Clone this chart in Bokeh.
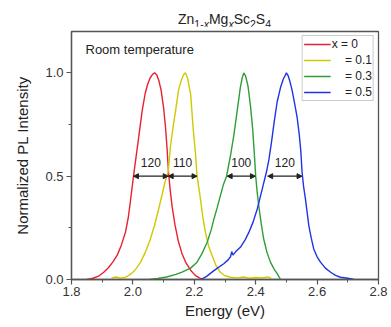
from bokeh.plotting import figure
from bokeh.layouts import column
from bokeh.models import Range1d, FixedTicker, Legend, LegendItem, Label, Arrow, NormalHead, Div
from bokeh.embed import file_html
from bokeh.resources import INLINE

# ---------------- data ----------------
NB = "\u00a0"
series_names = ["x = 0", NB * 4 + "= 0.1", NB * 4 + "= 0.3", NB * 4 + "= 0.5"]
series_colors = ["#e8202f", "#cfca00", "#2f9e36", "#2133e3"]

x0_E = [1.850, 1.870, 1.890, 1.905, 1.920, 1.935, 1.949, 1.962, 1.976, 1.985, 1.992, 2.002,
        2.010, 2.019, 2.030, 2.040, 2.048, 2.056, 2.064, 2.071, 2.078, 2.085, 2.092, 2.100,
        2.106, 2.111, 2.116, 2.121, 2.128, 2.137, 2.148, 2.160, 2.173, 2.188, 2.203, 2.218, 2.230]
x0_I = [0.000, 0.006, 0.018, 0.035, 0.057, 0.085, 0.118, 0.165, 0.230, 0.300, 0.380, 0.500,
        0.590, 0.690, 0.815, 0.900, 0.945, 0.975, 0.993, 1.000, 0.990, 0.960, 0.915, 0.830,
        0.740, 0.640, 0.520, 0.440, 0.350, 0.265, 0.185, 0.125, 0.080, 0.045, 0.020, 0.007, 0.000]

x1_E = [1.930, 1.945, 1.960, 1.975, 1.987, 2.000, 2.012, 2.025, 2.040, 2.057, 2.070, 2.084,
        2.095, 2.104, 2.115, 2.122, 2.131, 2.139, 2.149, 2.158, 2.165, 2.171, 2.178, 2.188,
        2.196, 2.204, 2.209, 2.220, 2.228, 2.236, 2.247, 2.258, 2.270, 2.285, 2.300, 2.318,
        2.340, 2.360, 2.380, 2.400, 2.420, 2.440, 2.450]
x1_I = [0.008, 0.012, 0.006, 0.010, 0.020, 0.035, 0.055, 0.084, 0.130, 0.196, 0.260, 0.341,
        0.410, 0.470, 0.520, 0.640, 0.740, 0.816, 0.920, 0.965, 0.990, 1.000, 0.975, 0.897,
        0.736, 0.607, 0.500, 0.390, 0.300, 0.229, 0.160, 0.116, 0.070, 0.035, 0.018, 0.011,
        0.008, 0.012, 0.006, 0.010, 0.007, 0.013, 0.005]

x3_E = [2.055, 2.080, 2.110, 2.140, 2.160, 2.188, 2.209, 2.225, 2.242, 2.255, 2.264, 2.275,
        2.285, 2.295, 2.305, 2.318, 2.329, 2.340, 2.350, 2.356, 2.361, 2.367, 2.375, 2.383,
        2.390, 2.395, 2.400, 2.405, 2.410, 2.418, 2.426, 2.437, 2.448, 2.460, 2.470, 2.481]
x3_I = [0.000, 0.005, 0.012, 0.025, 0.036, 0.055, 0.084, 0.125, 0.180, 0.240, 0.293, 0.350,
        0.406, 0.460, 0.500, 0.600, 0.700, 0.820, 0.930, 0.975, 1.000, 0.985, 0.935, 0.840,
        0.730, 0.620, 0.500, 0.420, 0.357, 0.270, 0.196, 0.130, 0.084, 0.050, 0.028, 0.000]

x5_E = [2.222, 2.240, 2.264, 2.280, 2.296, 2.310, 2.318, 2.322, 2.326, 2.335, 2.350, 2.365,
        2.378, 2.392, 2.405, 2.415, 2.425, 2.435, 2.443, 2.451, 2.460, 2.470, 2.481, 2.490,
        2.497, 2.500, 2.506, 2.512, 2.519, 2.527, 2.535, 2.542, 2.547, 2.551, 2.556, 2.562,
        2.573, 2.581, 2.589, 2.600, 2.611, 2.627, 2.644, 2.660, 2.676, 2.700, 2.720]
x5_I = [0.000, 0.015, 0.043, 0.060, 0.076, 0.095, 0.110, 0.135, 0.118, 0.135, 0.156, 0.190,
        0.229, 0.280, 0.341, 0.400, 0.460, 0.520, 0.580, 0.660, 0.760, 0.860, 0.930, 0.970,
        0.990, 1.000, 0.985, 0.955, 0.913, 0.850, 0.784, 0.700, 0.620, 0.520, 0.450, 0.390,
        0.261, 0.200, 0.148, 0.110, 0.084, 0.055, 0.035, 0.020, 0.011, 0.006, 0.000]

fwhm_lo = [2.002, 2.115, 2.307, 2.439]
fwhm_hi = [2.115, 2.209, 2.399, 2.551]
fwhm_level = 0.5
fwhm_text = ["120", "110", "100", "120"]

x_ticks = [1.8, 2.0, 2.2, 2.4, 2.6, 2.8]
x_minor = [1.9, 2.1, 2.3, 2.5, 2.7]
y_ticks = [0.0, 0.5, 1.0]
y_minor = [0.25, 0.75]

title_html = ("Zn<sub>1-<i>x</i></sub>Mg<sub><i>x</i></sub>Sc<sub>2</sub>S<sub>4</sub>")

# ---------------- layout ----------------
FONT = "Liberation Sans"
AX = "#555555"
TITLE_H = 26
FRAME_L, FRAME_R, FRAME_T, FRAME_B = 71, 378, 31, 279
W_PAGE, H_PAGE = 391, 327

sub_css = "font-size:10.5px;vertical-align:baseline;position:relative;top:3.5px;"
title_css = ("font-family:'Liberation Sans',Arial,sans-serif;font-size:14px;line-height:14px;"
             "color:#222222;white-space:nowrap;text-align:center;"
             f"margin-left:{FRAME_L}px;width:{FRAME_R - FRAME_L}px;padding-top:12px;")
html = f'<div style="{title_css}">' + title_html.replace("<sub>", f'<sub style="{sub_css}">') + "</div>"
title_div = Div(text=html, width=W_PAGE, height=TITLE_H, margin=(0, 0, 0, 0))

p = figure(width=W_PAGE, height=H_PAGE - TITLE_H, output_backend="svg", toolbar_location=None,
           x_range=Range1d(1.8, 2.8), y_range=Range1d(0, 1.2),
           min_border_left=FRAME_L, min_border_right=W_PAGE - FRAME_R,
           min_border_top=FRAME_T - TITLE_H, min_border_bottom=H_PAGE - FRAME_B,
           margin=(0, 0, 0, 0))
p.grid.visible = False
p.outline_line_color = AX
p.outline_line_width = 1.3

p.xaxis.ticker = FixedTicker(ticks=x_ticks, minor_ticks=x_minor)
p.yaxis.ticker = FixedTicker(ticks=y_ticks, minor_ticks=y_minor)
p.xaxis.major_label_overrides = {t: f"{t:.1f}" for t in x_ticks}
p.yaxis.major_label_overrides = {t: f"{t:.1f}" for t in y_ticks}
for ax in (p.xaxis[0], p.yaxis[0]):
    ax.axis_line_color = AX
    ax.axis_line_width = 1.3
    ax.major_tick_line_color = AX
    ax.minor_tick_line_color = AX
    ax.major_tick_line_width = 1.2
    ax.minor_tick_line_width = 1.0
    ax.major_tick_in = 0
    ax.major_tick_out = 5
    ax.minor_tick_in = 0
    ax.minor_tick_out = 3
    ax.major_label_text_font = FONT
    ax.major_label_text_font_size = "13px"
    ax.major_label_text_color = "#333333"
    ax.axis_label_text_font = FONT
    ax.axis_label_text_font_size = "15px"
    ax.axis_label_text_font_style = "normal"
    ax.axis_label_text_color = "#222222"
p.xaxis.axis_label = "Energy (eV)"
p.yaxis.axis_label = "Normalized PL Intensity"
p.xaxis.major_label_standoff = 2
p.xaxis.axis_label_standoff = 3
p.yaxis.major_label_standoff = 3
p.yaxis.axis_label_standoff = 11

# curves
curves = [(x0_E, x0_I), (x1_E, x1_I), (x3_E, x3_I), (x5_E, x5_I)]
items = []
for (xs, ys), name, col in zip(curves, series_names, series_colors):
    r = p.line(xs, ys, line_color=col, line_width=1.4)
    items.append(LegendItem(label=name, renderers=[r]))

legend = Legend(items=items, location="top_right", margin=4, padding=1, spacing=2,
                glyph_width=27, glyph_height=12, label_height=12, label_standoff=1,
                label_text_font=FONT, label_text_font_size="12px", label_text_color="#222222",
                border_line_color="#999999", border_line_width=1, background_fill_alpha=1.0)
p.add_layout(legend)

# FWHM arrows
for lo, hi, txt in zip(fwhm_lo, fwhm_hi, fwhm_text):
    p.add_layout(Arrow(x_start=lo, y_start=fwhm_level, x_end=hi, y_end=fwhm_level,
                       line_color="#222222", line_width=1.4,
                       start=NormalHead(size=5, fill_color="#222222", line_color="#222222"),
                       end=NormalHead(size=5, fill_color="#222222", line_color="#222222")))
    p.add_layout(Label(x=(lo + hi) / 2, y=fwhm_level, y_offset=14, text=txt,
                       text_align="center", text_baseline="middle",
                       text_font=FONT, text_font_size="12px", text_color="#222222"))

# "Room temperature"
p.add_layout(Label(x=14, y=230, x_units="screen", y_units="screen", text="Room temperature",
                   text_align="left", text_baseline="middle",
                   text_font=FONT, text_font_size="13px", text_color="#222222"))

layout = column(title_div, p, spacing=0, margin=(0, 0, 0, 0))
open("out.html", "w").write(file_html(layout, INLINE))
